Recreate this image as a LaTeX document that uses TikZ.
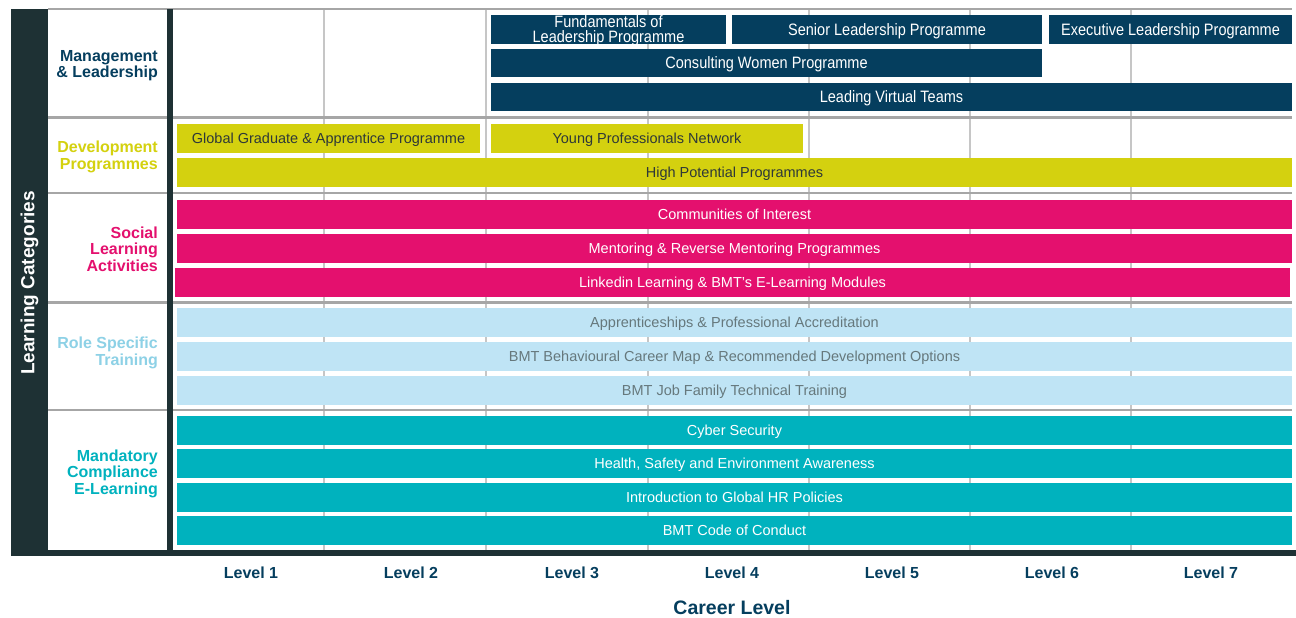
\documentclass[tikz,border=0pt]{standalone}
\usepackage{fontspec}
\setmainfont{Liberation Sans}
\newfontfamily\narrowfont[FakeStretch=0.88]{Liberation Sans}
\definecolor{frame}{HTML}{1E3134}
\definecolor{navy}{HTML}{053E5E}
\definecolor{yel}{HTML}{D4D10F}
\definecolor{mag}{HTML}{E4106E}
\definecolor{lblue}{HTML}{BFE4F5}
\definecolor{lbluetxt}{HTML}{8DD1E6}
\definecolor{lbluebartxt}{HTML}{66787C}
\definecolor{teal}{HTML}{00B2BE}
\definecolor{yeltxt}{HTML}{2E3838}
\definecolor{rowline}{HTML}{A6A6A6}
\definecolor{gridline}{HTML}{C6C6C6}
\newcommand\mkbar[7]{\node[#2, minimum width={#5-#3}, minimum height={#6-#4}] (#1) at ({(#3+#5)/2},{(#4+#6)/2}) {#7};}
\begin{document}
\begin{tikzpicture}[x=1pt,y=-1pt,
  barbase/.style={inner sep=0pt, outer sep=0pt, draw=none},
  onel/.style={text height=10.4pt, text depth=0pt},
  stdfont/.style={font=\fontsize{14.5}{16}\selectfont},
  navybar/.style={barbase, fill=navy, text=white, font=\narrowfont\fontsize{16.5}{15}\selectfont},
  navyone/.style={navybar, text height=11.8pt, text depth=0pt},
  yelbar/.style={barbase, onel, stdfont, fill=yel, text=yeltxt},
  magbar/.style={barbase, onel, stdfont, fill=mag, text=white},
  lbbar/.style={barbase, onel, stdfont, fill=lblue, text=lbluebartxt},
  tealbar/.style={barbase, onel, stdfont, fill=teal, text=white},
  catlabel/.style={anchor=east, align=right, inner sep=0pt, text depth=0pt, font=\fontsize{16}{16.5}\selectfont\bfseries},
  levellabel/.style={text=navy, inner sep=0pt, font=\fontsize{16}{18}\selectfont\bfseries},
  rowsep/.style={draw=rowline, line width=2.5pt},
  gridsep/.style={draw=gridline, line width=2pt}
]
\useasboundingbox[fill=white] (0,0) rectangle (1296,618);
% vertical grid lines
\foreach \gx in {324,486,648,809,970,1131}{\draw[gridsep] (\gx,9) -- (\gx,550);}
% row separators
\foreach \gy in {9,117.5,193,302.5,410}{\draw[rowsep] (48,\gy) -- (1292,\gy);}
% frame
\fill[frame] (11,9) rectangle (48,556);
\fill[frame] (167,9) rectangle (173,551);
\fill[frame] (11,550) rectangle (1296,556);
\node[rotate=90, text=white, inner sep=0pt, font=\fontsize{19}{20}\selectfont\bfseries] (lc) at (29.5,283) {Learning Categories};
% category labels
\node[catlabel, text=navy] (cat1) at (158,64) {Management\\\& Leadership};
\node[catlabel, text=yel] (cat2) at (158,155) {Development\\Programmes};
\node[catlabel, text=mag] (cat3) at (158,249) {Social\\Learning\\Activities};
\node[catlabel, text=lbluetxt] (cat4) at (158,351) {Role Specific\\Training};
\node[catlabel, text=teal] (cat5) at (158,472) {Mandatory\\Compliance\\E-Learning};
% Management & Leadership
\mkbar{fund}{navybar, align=center, text depth=0pt}{491}{15}{726}{44}{Fundamentals of\\Leadership Programme}
\mkbar{senior}{navyone}{732}{15}{1042}{44}{Senior Leadership Programme}
\mkbar{exec}{navyone}{1049}{15}{1292}{44}{Executive Leadership Programme}
\mkbar{consult}{navyone}{491}{49}{1042}{77}{Consulting Women Programme}
\mkbar{virtual}{navyone}{491}{83}{1292}{111}{Leading Virtual Teams}
% Development
\mkbar{grad}{yelbar}{177}{124}{480}{153}{Global Graduate \& Apprentice Programme}
\mkbar{young}{yelbar}{491}{124}{803}{153}{Young Professionals Network}
\mkbar{hipo}{yelbar}{177}{158}{1292}{187}{High Potential Programmes}
% Social
\mkbar{comm}{magbar}{177}{200}{1292}{229}{Communities of Interest}
\mkbar{mentor}{magbar}{177}{234}{1292}{263}{Mentoring \& Reverse Mentoring Programmes}
\mkbar{linkedin}{magbar}{175}{268}{1290}{297}{Linkedin Learning \& BMT’s E-Learning Modules}
% Role specific
\mkbar{appr}{lbbar}{177}{308}{1292}{337}{Apprenticeships \& Professional Accreditation}
\mkbar{behav}{lbbar}{177}{342}{1292}{371}{BMT Behavioural Career Map \& Recommended Development Options}
\mkbar{jobfam}{lbbar}{177}{376}{1292}{405}{BMT Job Family Technical Training}
% Mandatory
\mkbar{cyber}{tealbar}{177}{416}{1292}{445}{Cyber Security}
\mkbar{hse}{tealbar}{177}{449}{1292}{478}{Health, Safety and Environment Awareness}
\mkbar{hr}{tealbar}{177}{483}{1292}{512}{Introduction to Global HR Policies}
\mkbar{code}{tealbar}{177}{516}{1292}{545}{BMT Code of Conduct}
% levels
\node[levellabel] (l1) at (251,573) {Level 1};
\node[levellabel] (l2) at (411,573) {Level 2};
\node[levellabel] (l3) at (572,573) {Level 3};
\node[levellabel] (l4) at (732,573) {Level 4};
\node[levellabel] (l5) at (892,573) {Level 5};
\node[levellabel] (l6) at (1052,573) {Level 6};
\node[levellabel] (l7) at (1211,573) {Level 7};
\node[text=navy, inner sep=0pt, font=\fontsize{19.5}{21}\selectfont\bfseries] (career) at (732,608) {Career Level};
\end{tikzpicture}
\end{document}
